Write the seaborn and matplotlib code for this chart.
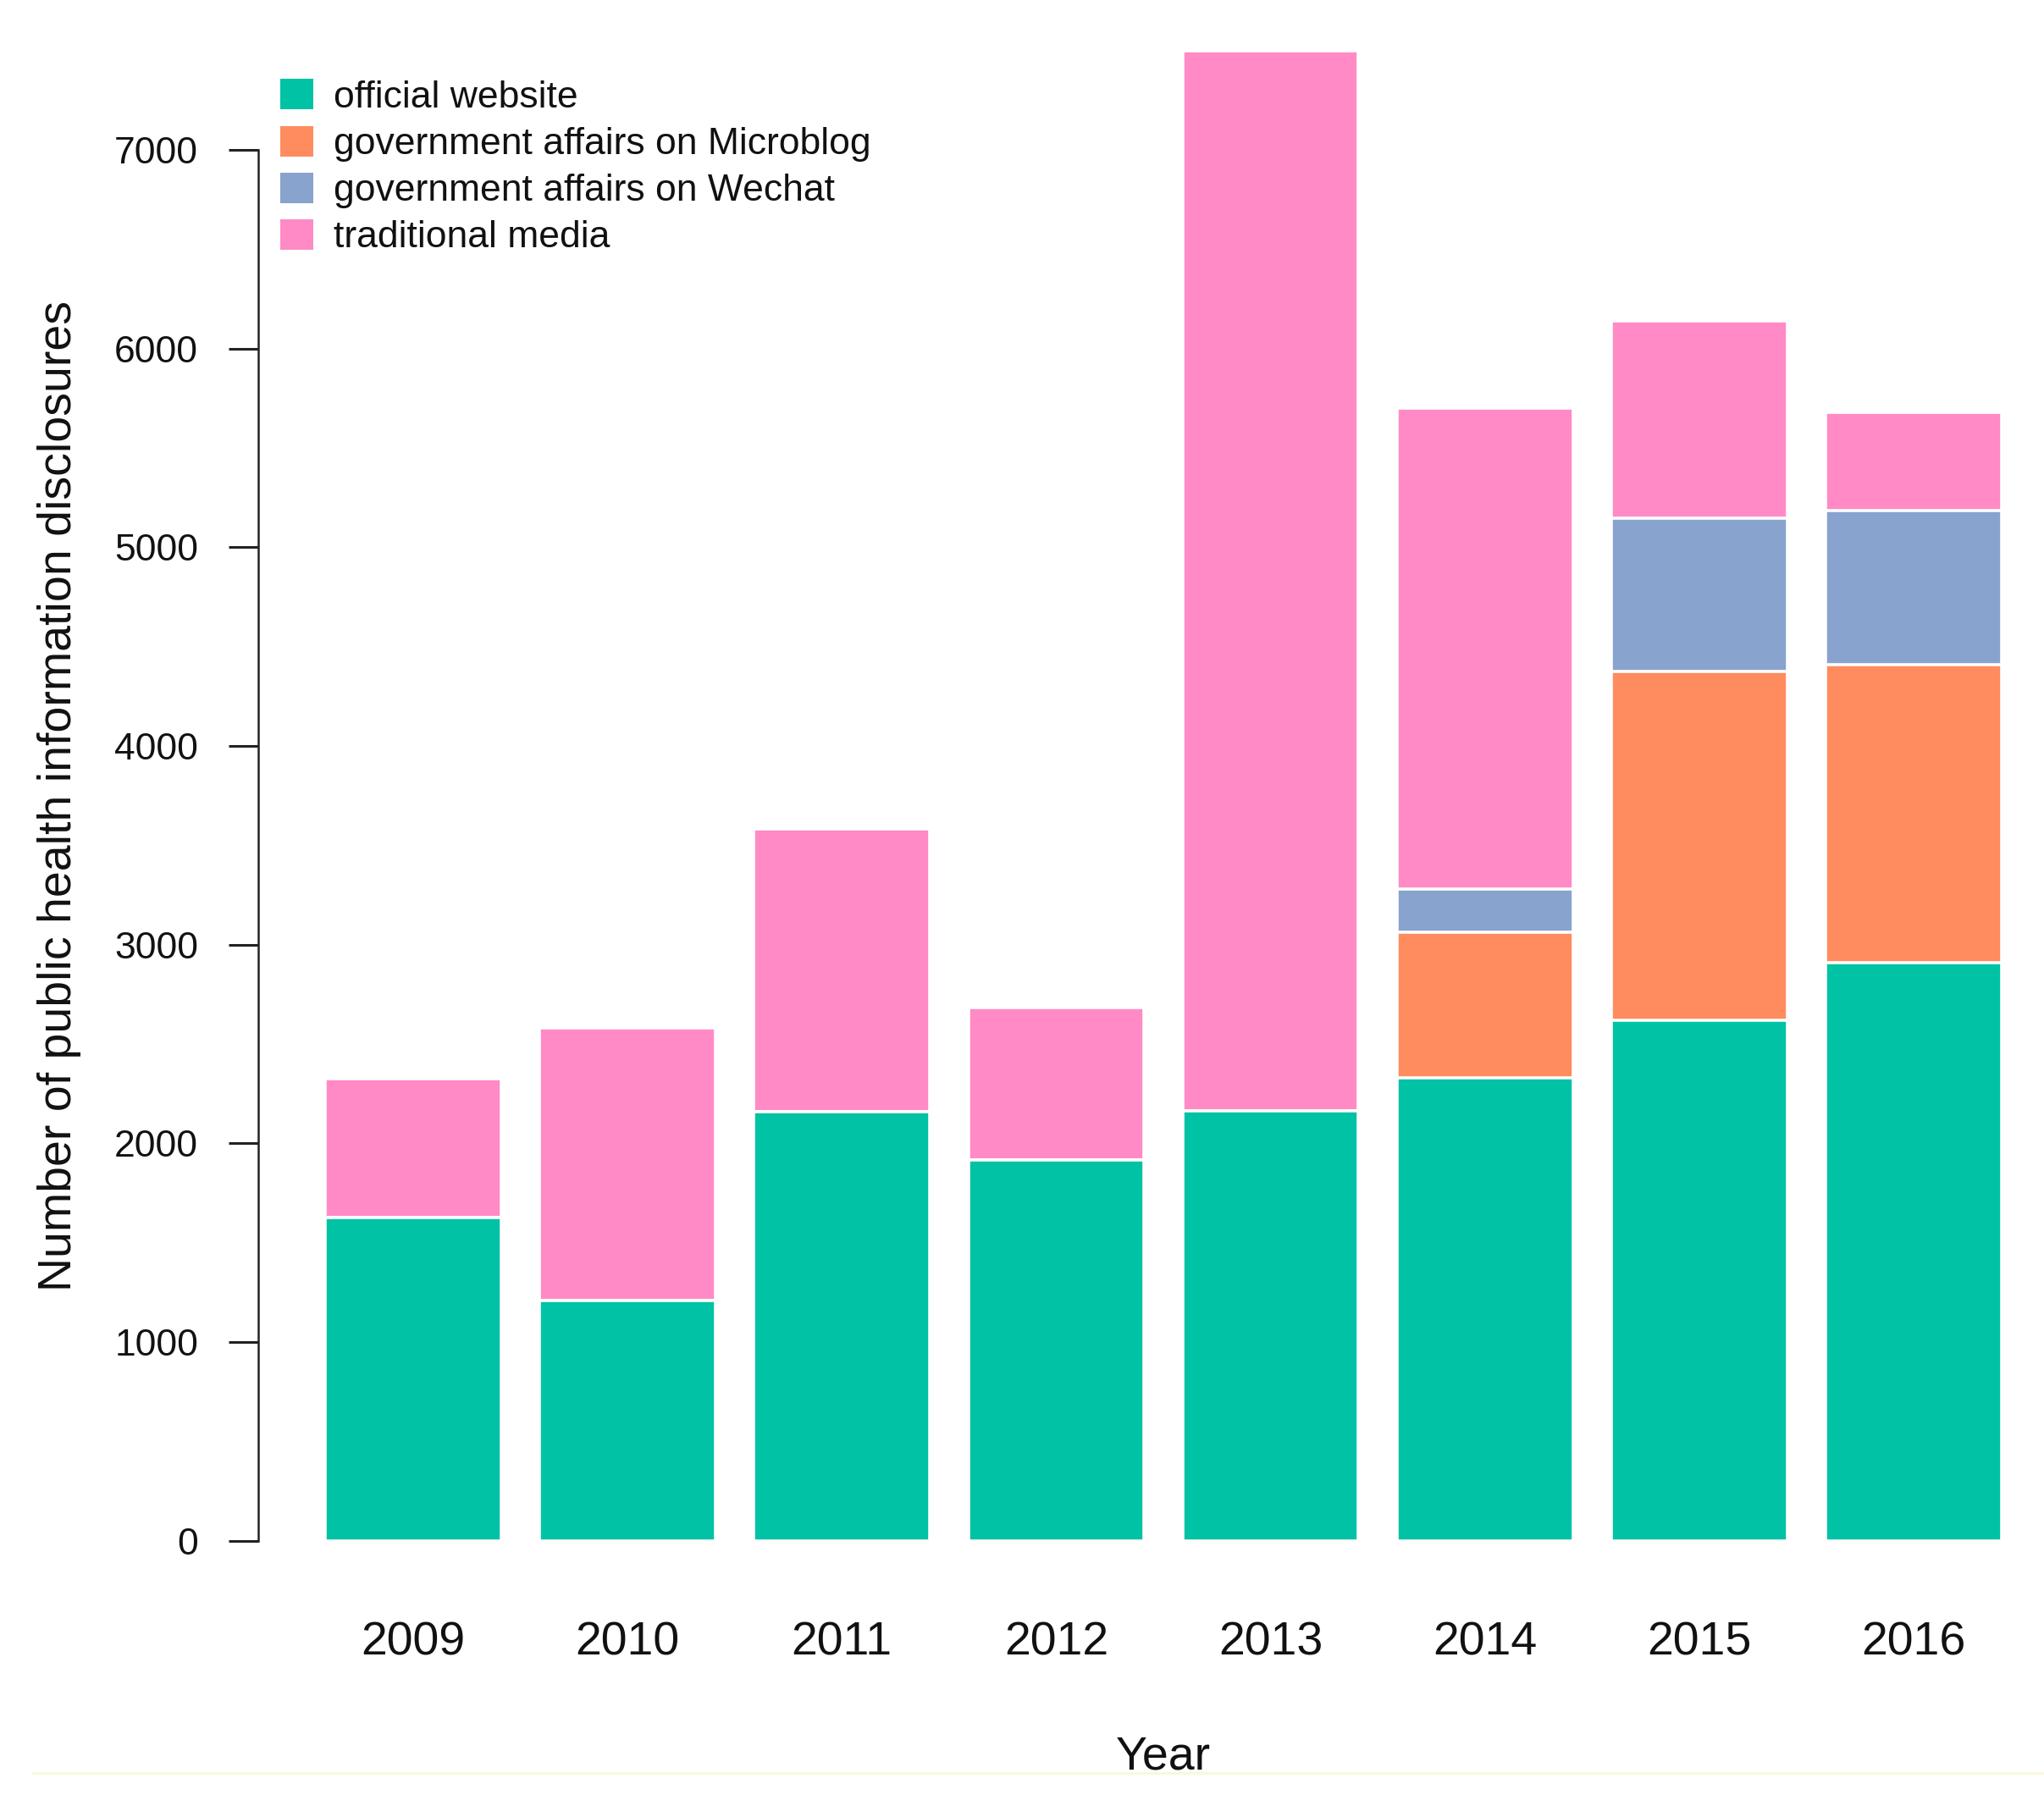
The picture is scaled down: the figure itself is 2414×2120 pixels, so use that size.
import matplotlib.pyplot as plt
import matplotlib.patches as mpatches
import matplotlib.lines as mlines
import numpy as np
import seaborn as sns

years = ['2009', '2010', '2011', '2012', '2013', '2014', '2015', '2016']
official_website = [1625, 1210, 2160, 1915, 2165, 2330, 2620, 2910]
microblog = [0, 0, 0, 0, 0, 735, 1755, 1500]
wechat = [0, 0, 0, 0, 0, 215, 770, 775]
traditional_media = [700, 1370, 1425, 770, 5335, 2420, 995, 495]

labels = ['official website', 'government affairs on Microblog',
          'government affairs on Wechat', 'traditional media']
colors = ['#00C2A4', '#FF8C5E', '#87A3CE', '#FF8AC6']

sns.set_style('white')
plt.rcParams['font.family'] = ['Liberation Sans', 'DejaVu Sans']
plt.rcParams['text.color'] = '#111111'
plt.rcParams['axes.labelcolor'] = '#111111'
plt.rcParams['xtick.color'] = '#111111'
plt.rcParams['ytick.color'] = '#111111'

fig = plt.figure(figsize=(12.07, 10.6), dpi=200)
ax = fig.add_axes([0.1497, 0.1416, 0.839, 0.8302])

layers = [official_website, microblog, wechat, traditional_media]
cum = np.cumsum(np.array(layers), axis=0)

# draw cumulative totals from the top layer down so each segment sits on the one below
for i in range(len(layers) - 1, -1, -1):
    sns.barplot(x=years, y=cum[i], color=colors[i], width=0.82,
                edgecolor='white', linewidth=1.3, saturation=1, ax=ax)

ax.set_xlim(-0.5, 7.5)
ax.set_ylim(0, 7500)
ax.set_yticks([0, 1000, 2000, 3000, 4000, 5000, 6000, 7000])

for s in ['top', 'right', 'bottom']:
    ax.spines[s].set_visible(False)
ax.spines['left'].set_bounds(0, 7000)
ax.spines['left'].set_position(('outward', 20.4))
ax.spines['left'].set_linewidth(0.9)
ax.spines['left'].set_color('#222222')

ax.tick_params(axis='y', length=12.7, width=1.1, pad=12.7, labelsize=16,
               color='#222222', left=True)
ax.tick_params(axis='x', length=0, pad=34, labelsize=20)

ax.set_xlabel('Year', fontsize=20, labelpad=30)
ax.set_ylabel('Number of public health information disclosures', fontsize=20, labelpad=14)

handles = [mpatches.Patch(facecolor=c, edgecolor='none') for c in colors]
fig.legend(handles, labels, loc='upper left', bbox_to_anchor=(0.1371, 0.956),
           frameon=False, fontsize=16, handlelength=0.87, handleheight=0.87,
           handletextpad=0.55, labelspacing=0.29, borderpad=0, borderaxespad=0)

fig.add_artist(mlines.Line2D([0.016, 1.0], [0.0123, 0.0123], color='#F8F8D8',
                             linewidth=1.0, transform=fig.transFigure))

fig.savefig('out.png', dpi=200)
